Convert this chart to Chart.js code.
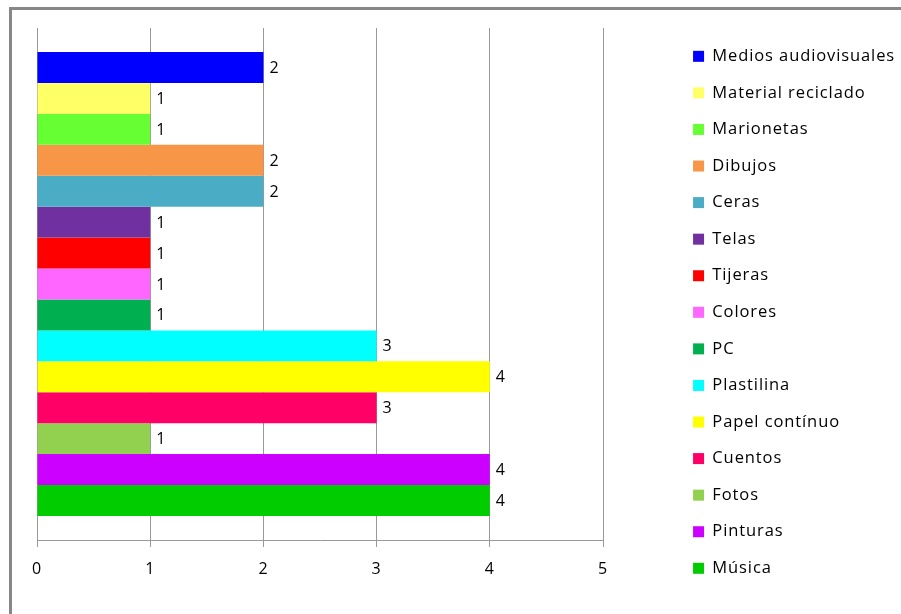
<!DOCTYPE html>
<html>
<head>
<meta charset="utf-8">
<script src="https://cdn.jsdelivr.net/npm/chart.js@4.4.0/dist/chart.umd.min.js"></script>
<style>
  html, body { margin: 0; padding: 0; background: #fff; }
  #wrap { position: relative; width: 901px; height: 614px; overflow: hidden; }
  #frame { position: absolute; left: 9px; top: 7px; width: 1000px; height: 700px; border: 3px solid #878787; }
  #c { position: absolute; left: 0; top: 0; }
</style>
</head>
<body>
<div id="wrap">
  <div id="frame"></div>
  <canvas id="c" width="901" height="614"></canvas>
</div>
<script>
// series, top to bottom as in the legend
const seriesNames = ['Medios audiovisuales', 'Material reciclado', 'Marionetas', 'Dibujos', 'Ceras',
    'Telas', 'Tijeras', 'Colores', 'PC', 'Plastilina', 'Papel contínuo', 'Cuentos', 'Fotos',
    'Pinturas', 'Música'];
const seriesValues = [2, 1, 1, 2, 2, 1, 1, 1, 1, 3, 4, 3, 1, 4, 4];
const seriesColors = ['#0000FF', '#FFFF66', '#66FF33', '#F79646', '#4BACC6', '#7030A0', '#FF0000',
    '#FF66FF', '#00B050', '#00FFFF', '#FFFF00', '#FF0066', '#92D050', '#CC00FF', '#00CC00'];
const xTicks = [0, 1, 2, 3, 4, 5];

const gridColor = '#999999';
const fontFamily = '"Open Sans"';
const legendWidth = 228;   // fixed legend column width
const legendGap = 70;      // space between plot and legend

const datasets = seriesNames.map((name, i) => ({
    label: name,
    data: [seriesValues[i]],
    backgroundColor: seriesColors[i],
    borderWidth: 0,
    categoryPercentage: 0.906,
    barPercentage: 1.0,
}));

// slightly spaced letters like the original
const spacing = {
    id: 'spacing',
    beforeUpdate(chart) { chart.ctx.letterSpacing = '0.9px'; },
    beforeDraw(chart) { chart.ctx.letterSpacing = '0.9px'; },
    afterInit(chart) {
        const legend = chart.legend;
        const fit = legend.fit.bind(legend);
        legend.fit = function () { fit(); this.width = legendWidth; };
    }
};

// value labels at the end of each bar
const valueLabels = {
    id: 'valueLabels',
    afterDatasetsDraw(chart) {
        const ctx = chart.ctx;
        ctx.save();
        ctx.font = '16px ' + fontFamily;
        ctx.fillStyle = '#000';
        ctx.textAlign = 'left';
        ctx.textBaseline = 'middle';
        chart.data.datasets.forEach((ds, i) => {
            const bar = chart.getDatasetMeta(i).data[0];
            ctx.fillText(String(ds.data[0]), bar.x + 6, bar.y + 1);
        });
        ctx.restore();
    }
};

new Chart(document.getElementById('c'), {
    type: 'bar',
    data: { labels: [''], datasets },
    options: {
        indexAxis: 'y',
        responsive: false,
        animation: false,
        layout: { padding: { left: 37, top: 28, bottom: 0, right: 0 } },
        scales: {
            x: {
                min: 0,
                max: 5,
                afterBuildTicks(scale) { scale.ticks = xTicks.map(v => ({ value: v })); },
                afterFit(scale) { scale.height = 74; },
                grid: { color: gridColor, lineWidth: 1, tickLength: 7, tickColor: gridColor },
                border: { color: gridColor, width: 1 },
                ticks: { color: '#000', padding: 13, font: { family: fontFamily, size: 16 } },
            },
            y: { display: false },
            gap: {
                axis: 'y',
                type: 'linear',
                position: 'right',
                grid: { display: false },
                border: { display: false },
                ticks: { display: false },
                afterFit(scale) { scale.width = legendGap; },
            },
        },
        plugins: {
            legend: {
                position: 'right',
                align: 'start',
                labels: {
                    boxWidth: 11,
                    boxHeight: 11,
                    padding: 20.07,
                    color: '#000',
                    font: { family: fontFamily, size: 16.5 },
                },
            },
            tooltip: { enabled: false },
        },
    },
    plugins: [spacing, valueLabels],
});
</script>
</body>
</html>
